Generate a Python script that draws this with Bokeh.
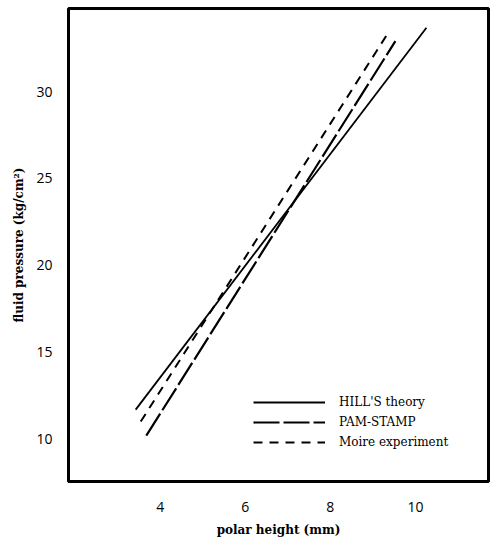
from bokeh.plotting import figure
from bokeh.models import FixedTicker, Range1d, Legend, LegendItem
from bokeh.embed import file_html
from bokeh.resources import INLINE

# Data
hill_x = [3.42, 10.26]
hill_y = [11.69, 33.67]
pam_x = [3.67, 9.53]
pam_y = [10.19, 32.9]
moire_x = [3.54, 9.35]
moire_y = [11.0, 33.34]

x_ticks = [4, 6, 8, 10]
y_ticks = [10, 15, 20, 25, 30]

p = figure(width=490, height=543, output_backend="svg", toolbar_location=None,
           x_range=Range1d(1.84, 11.72), y_range=Range1d(7.55, 34.78),
           min_border_left=68, min_border_right=2, min_border_top=8, min_border_bottom=62)

p.grid.visible = False
p.outline_line_color = "black"
p.outline_line_width = 3
p.background_fill_color = "white"

serif = "DejaVu Serif"
for ax in (p.xaxis[0], p.yaxis[0]):
    ax.axis_line_color = None
    ax.major_tick_line_color = None
    ax.minor_tick_line_color = None
    ax.major_label_text_font = "Open Sans"
    ax.major_label_text_font_size = "14px"
    ax.major_label_text_color = "black"
    ax.axis_label_text_font = serif
    ax.axis_label_text_font_style = "bold"
    ax.axis_label_text_font_size = "12px"
    ax.axis_label_text_color = "black"

p.xaxis.ticker = FixedTicker(ticks=x_ticks)
p.yaxis.ticker = FixedTicker(ticks=y_ticks)
p.xaxis.major_label_standoff = 14
p.yaxis.major_label_standoff = 10
p.xaxis.axis_label = "polar height (mm)"
p.yaxis.axis_label = "fluid pressure (kg/cm²)"
p.xaxis.axis_label_standoff = 8
p.yaxis.axis_label_standoff = 7

r1 = p.line(hill_x, hill_y, line_color="black", line_width=1.8)
r2 = p.line(pam_x, pam_y, line_color="black", line_width=2.2, line_dash="26 4")
r3 = p.line(moire_x, moire_y, line_color="black", line_width=2, line_dash="9 7")

legend = Legend(items=[
    LegendItem(label="HILL'S theory", renderers=[r1]),
    LegendItem(label="PAM-STAMP", renderers=[r2]),
    LegendItem(label="Moire experiment", renderers=[r3]),
], location=(185, 29))
legend.background_fill_alpha = 0
legend.border_line_color = None
legend.padding = 0
legend.margin = 0
legend.spacing = 0
legend.glyph_width = 72
legend.glyph_height = 20
legend.label_height = 20
legend.label_standoff = 14
legend.label_text_font = serif
legend.label_text_font_size = "12px"
legend.label_text_color = "black"
p.add_layout(legend, "center")

open("out.html", "w").write(file_html(p, INLINE))
